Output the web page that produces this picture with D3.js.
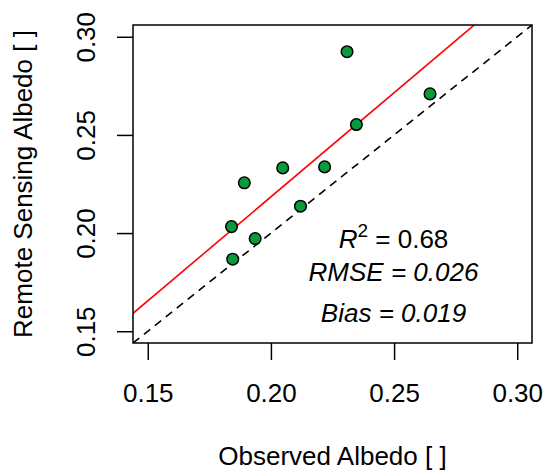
<!DOCTYPE html>
<html><head><meta charset="utf-8">
<script src="https://cdn.jsdelivr.net/npm/d3@7"></script>
<style>body{margin:0;background:#fff}svg{display:block;font-family:"Liberation Sans",Arial,sans-serif}</style>
</head><body>
<script>
const observed = [0.1840,0.1892,0.1845,0.1936,0.2048,0.2120,0.2218,0.2309,0.2347,0.2646];
const remote   = [0.2033,0.2256,0.1867,0.1972,0.2332,0.2137,0.2337,0.2924,0.2553,0.2709];
const ticks = [0.15,0.20,0.25,0.30];
const statLines = [{lab:"RMSE = 0.026"},{lab:"Bias = 0.019"}];

const W=546,H=470;
const L=133,R=532,T=25,B=343;
const svg=d3.select("body").append("svg").attr("width",W).attr("height",H);
const x=d3.scaleLinear().domain([0.144,0.306]).range([L,R]);
const y=d3.scaleLinear().domain([0.144,0.306]).range([B,T]);

// regression
const mx=d3.mean(observed), my=d3.mean(remote);
let sxy=0,sxx=0;
observed.forEach((v,i)=>{sxy+=(v-mx)*(remote[i]-my);sxx+=(v-mx)*(v-mx);});
const slope=sxy/sxx, icpt=my-slope*mx;

svg.append("clipPath").attr("id","c").append("rect").attr("x",L).attr("y",T).attr("width",R-L).attr("height",B-T);
const g=svg.append("g").attr("clip-path","url(#c)");
const xd=x.domain();
g.append("line").attr("x1",x(xd[0])).attr("y1",y(xd[0])).attr("x2",x(xd[1])).attr("y2",y(xd[1]))
 .attr("stroke","#000").attr("stroke-width",1.6).attr("stroke-dasharray","8,6");
g.append("line").attr("x1",x(xd[0])).attr("y1",y(icpt+slope*xd[0])).attr("x2",x(xd[1])).attr("y2",y(icpt+slope*xd[1]))
 .attr("stroke","#ff0000").attr("stroke-width",1.6);

svg.append("g").selectAll("circle").data(observed).join("circle")
 .attr("cx",d=>x(d)).attr("cy",(d,i)=>y(remote[i])).attr("r",5.8)
 .attr("fill","#0a9a3c").attr("stroke","#000").attr("stroke-width",1.5);

svg.append("rect").attr("x",L).attr("y",T).attr("width",R-L).attr("height",B-T)
 .attr("fill","none").attr("stroke","#000").attr("stroke-width",1.5);

// x axis
const xa=svg.append("g").attr("transform",`translate(0,${B})`)
 .call(d3.axisBottom(x).tickValues(ticks).tickFormat(d3.format(".2f")).tickSize(17).tickPadding(0));
xa.select(".domain").remove();
xa.selectAll(".tick line").attr("stroke","#000").attr("stroke-width",1.5);
xa.selectAll(".tick text").attr("font-size",26).attr("font-family","Liberation Sans, Arial, sans-serif").attr("fill","#000")
 .attr("y",59).attr("dy",null);

// y axis
const ya=svg.append("g").attr("transform",`translate(${L},0)`)
 .call(d3.axisLeft(y).tickValues(ticks).tickFormat(d3.format(".2f")).tickSize(16));
ya.select(".domain").remove();
ya.selectAll(".tick line").attr("stroke","#000").attr("stroke-width",1.5);
ya.selectAll(".tick text").attr("font-size",26).attr("font-family","Liberation Sans, Arial, sans-serif").attr("fill","#000")
 .attr("x",null).attr("dy",null).attr("text-anchor","middle").attr("transform","translate(-38,0) rotate(-90)");

// titles
svg.append("text").attr("x",(L+R)/2).attr("y",465).attr("text-anchor","middle").attr("font-size",26).text("Observed Albedo [ ]");
svg.append("text").attr("transform",`translate(31.5,${(T+B)/2}) rotate(-90)`).attr("text-anchor","middle").attr("font-size",26).text("Remote Sensing Albedo [ ]");

// stats
const cx=393.5;
const t1=svg.append("text").attr("x",cx).attr("y",248).attr("text-anchor","middle").attr("font-size",26);
t1.append("tspan").attr("font-style","italic").text("R");
t1.append("tspan").attr("font-size",19).attr("dy",-11).text("2");
t1.append("tspan").attr("dy",11).text(" = "+d3.format(".2f")(0.68));
svg.selectAll("text.st").data(statLines).join("text").attr("class","st")
 .attr("x",cx).attr("y",(d,i)=>[281,322][i]).attr("text-anchor","middle").attr("font-size",26).attr("font-style","italic")
 .text(d=>d.lab);
</script>
</body></html>
